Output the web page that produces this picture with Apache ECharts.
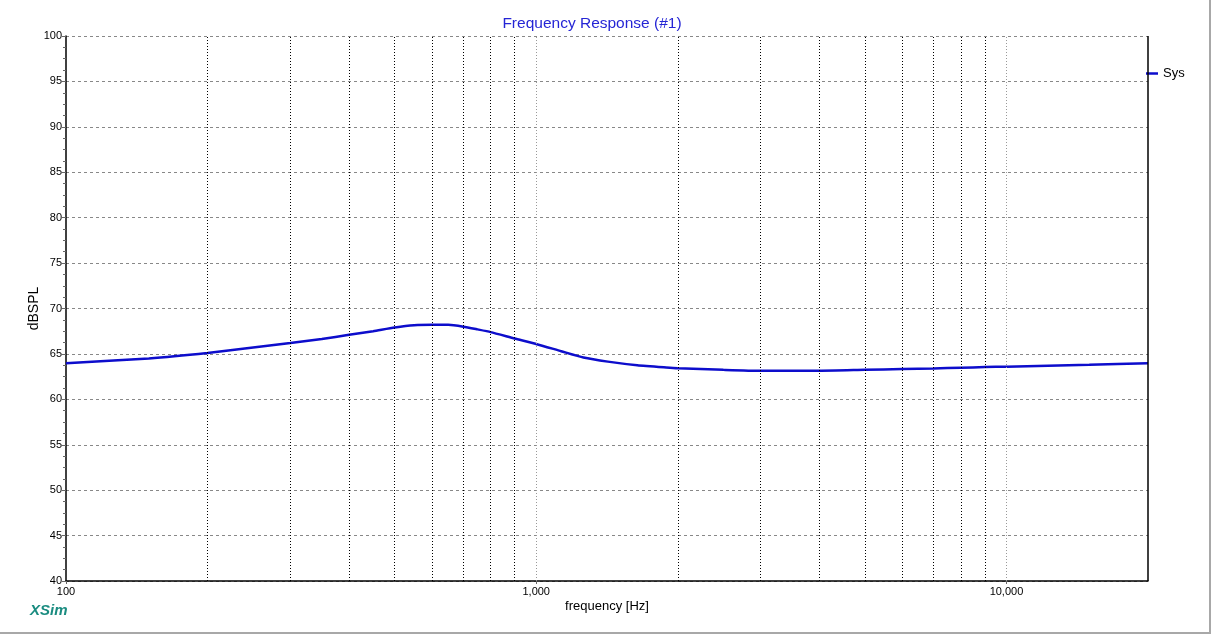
<!DOCTYPE html>
<html>
<head>
<meta charset="utf-8">
<script src="https://cdn.jsdelivr.net/npm/echarts@6/dist/echarts.min.js"></script>
<style>html,body{margin:0;padding:0;background:#fff}#c{width:1213px;height:635px}</style>
</head>
<body>
<div id="c"></div>
<script>
const freqHz = [100,150,200,250,300,350,400,450,500,550,600,650,700,750,800,900,1000,1130,1260,1420,1640,1890,2000,2500,3000,4000,5000,6000,7000,8000,9000,10000,15000,20000];
const splDb = [63.97,64.5,65.1,65.7,66.2,66.65,67.1,67.5,67.9,68.15,68.2,68.2,68.0,67.7,67.4,66.7,66.1,65.3,64.6,64.15,63.75,63.5,63.42,63.25,63.15,63.15,63.25,63.33,63.4,63.48,63.55,63.6,63.8,63.97];
const minorFreqs = [200,300,400,500,600,700,800,900,2000,3000,4000,5000,6000,7000,8000,9000];
const majorFreqs = [1000,10000];
const seriesName = 'Sys';

const chart = echarts.init(document.getElementById('c'));
const markData = [];
minorFreqs.forEach(f => markData.push({xAxis: f, lineStyle: {color: '#000', type: [1,2], width: 1}}));
majorFreqs.forEach(f => markData.push({xAxis: f, lineStyle: {color: '#999', type: [1,2], width: 1}}));
markData.push({xAxis: 20000, lineStyle: {color: '#000', type: 'solid', width: 1.5}});

chart.setOption({
  animation: false,
  backgroundColor: '#fff',
  title: {
    text: 'Frequency Response (#1)', left: 587, top: 11, textAlign: 'center',
    textStyle: {color: '#2525d5', fontSize: 15.5, fontWeight: 'normal', fontFamily: 'Liberation Sans, Arial'}
  },
  legend: {
    left: 1146, top: 67, padding: 0, icon: 'rect', itemWidth: 12, itemHeight: 2.5, itemGap: 4,
    textStyle: {color: '#000', fontSize: 13, fontFamily: 'Liberation Sans, Arial'},
    data: [seriesName]
  },
  grid: {left: 66, right: 65, top: 36, bottom: 54},
  xAxis: {
    type: 'log', logBase: 10, min: 100, max: 20000,
    name: 'frequency [Hz]', nameLocation: 'middle', nameGap: 19, nameMoveOverlap: false,
    nameTextStyle: {color: '#000', fontSize: 13, fontFamily: 'Liberation Sans, Arial'},
    axisLine: {lineStyle: {color: '#000', width: 1.5}},
    axisTick: {show: true, length: 3, lineStyle: {color: '#666'}},
    axisLabel: {color: '#000', fontSize: 11, margin: 5, fontFamily: 'Liberation Sans, Arial', showMaxLabel: false,
      formatter: v => (v >= 19999 ? '' : Math.round(v).toLocaleString('en-US'))},
    splitLine: {show: false}
  },
  yAxis: {
    type: 'value', min: 40, max: 100, interval: 5,
    name: 'dBSPL', nameLocation: 'middle', nameGap: 25, nameMoveOverlap: false,
    nameTextStyle: {color: '#000', fontSize: 14, fontFamily: 'Liberation Sans, Arial'},
    axisLine: {show: true, lineStyle: {color: '#000', width: 1.5}},
    axisTick: {show: true, length: 4, lineStyle: {color: '#666'}},
    minorTick: {show: true, splitNumber: 4, length: 3, lineStyle: {color: '#666'}},
    axisLabel: {color: '#000', fontSize: 11, margin: 4, fontFamily: 'Liberation Sans, Arial'},
    splitLine: {show: true, lineStyle: {color: '#888', type: [3,3], width: 1}}
  },
  graphic: [
    {type: 'text', left: 30, top: 603, style: {text: 'XSim', fill: '#1a8c80', font: 'italic bold 15px "Liberation Sans", Arial'}},
    {type: 'line', shape: {x1: 0, y1: 633, x2: 1210, y2: 633}, style: {stroke: '#a8a8a8', lineWidth: 2}},
    {type: 'line', shape: {x1: 1210, y1: 0, x2: 1210, y2: 634}, style: {stroke: '#a8a8a8', lineWidth: 2}}
  ],
  series: [{
    name: seriesName, type: 'line', showSymbol: false, smooth: 0.2,
    data: freqHz.map((f, i) => [f, splDb[i]]),
    lineStyle: {color: '#0d0dcc', width: 2.5}, itemStyle: {color: '#0d0dcc'},
    markLine: {silent: true, symbol: 'none', label: {show: false}, data: markData}
  }]
});
</script>
</body>
</html>
